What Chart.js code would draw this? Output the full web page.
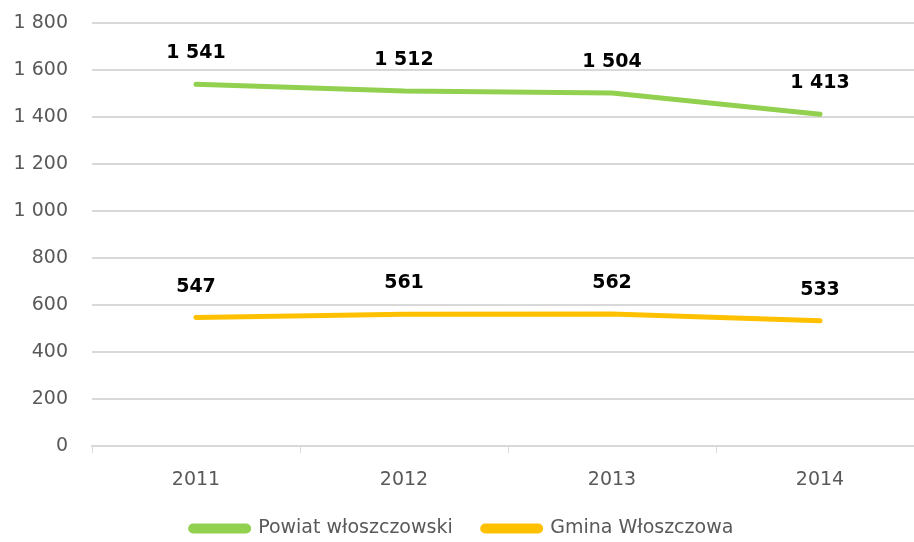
<!DOCTYPE html>
<html>
<head>
<meta charset="utf-8">
<script src="https://cdn.jsdelivr.net/npm/chart.js@4"></script>
<style>
  html, body { margin: 0; padding: 0; background: #fff; overflow: hidden; }
  #wrap { width: 924px; height: 560px; margin-top: -12px; position: relative; }
</style>
</head>
<body>
<div id="wrap"><canvas id="chart"></canvas></div>
<script>
'use strict'

const years = ['2011', '2012', '2013', '2014'];
const powiat = [1541, 1512, 1504, 1413];
const gmina = [547, 561, 562, 533];
const yTicks = [0, 200, 400, 600, 800, 1000, 1200, 1400, 1600, 1800];

const fmt = (v) => String(v).replace(/\B(?=(\d{3})+(?!\d))/g, ' ');
const fontFamily = '"DejaVu Sans", sans-serif';

// value labels above each point
const valueLabels = {
  id: 'valueLabels',
  afterDatasetsDraw(chart) {
    let ctx = chart.ctx;
    ctx.save();
    ctx.font = 'bold 19px ' + fontFamily;
    ctx.fillStyle = '#000';
    ctx.textAlign = 'center';
    ctx.textBaseline = 'middle';
    chart.data.datasets.forEach((ds, i) => {
      chart.getDatasetMeta(i).data.forEach((pt, j) => {
        ctx.fillText(fmt(ds.data[j]), pt.x, pt.y - 31);
      });
    });
    ctx.restore();
  }
};

new Chart(document.getElementById('chart'), {
  type: 'line',
  data: {
    labels: years,
    datasets: [
      {
        label: 'Powiat włoszczowski',
        data: powiat,
        borderColor: '#92D050',
        backgroundColor: '#92D050',
        borderWidth: 5,
        borderCapStyle: 'round',
        pointRadius: 0,
        tension: 0
      },
      {
        label: 'Gmina Włoszczowa',
        data: gmina,
        borderColor: '#FFC000',
        backgroundColor: '#FFC000',
        borderWidth: 5,
        borderCapStyle: 'round',
        pointRadius: 0,
        tension: 0
      }
    ]
  },
  options: {
    responsive: true,
    maintainAspectRatio: false,
    animation: false,
    layout: { padding: 0 },
    plugins: {
      tooltip: { enabled: false },
      legend: {
        position: 'bottom',
        labels: {
          color: '#595959',
          font: { family: fontFamily, size: 19 },
          boxWidth: 58,
          boxHeight: 5,
          useBorderRadius: true,
          borderRadius: 2.5,
          padding: 30
        }
      }
    },
    scales: {
      x: {
        offset: true,
        grid: { offset: true, drawOnChartArea: false, drawTicks: true, tickLength: 7, color: '#d9d9d9' },
        border: { color: '#d9d9d9', width: 2 },
        ticks: { color: '#595959', font: { family: fontFamily, size: 19 }, padding: 16 },
        afterFit: (s) => { s.height = 43; }
      },
      y: {
        min: 0,
        max: 1800,
        afterBuildTicks: (s) => { s.ticks = yTicks.map(v => ({ value: v })); },
        grid: { color: '#d9d9d9', lineWidth: 2, drawTicks: false },
        border: { display: false },
        ticks: {
          color: '#595959',
          font: { family: fontFamily, size: 19 },
          padding: 24,
          callback: (v) => fmt(v)
        },
        afterFit: (s) => { s.width = 92; }
      }
    }
  },
  plugins: [valueLabels]
});
</script>
</body>
</html>
